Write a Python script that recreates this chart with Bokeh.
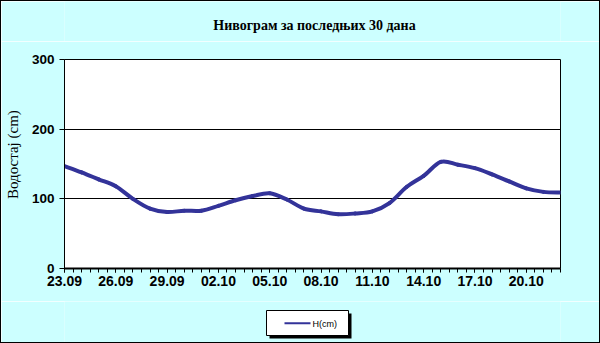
import numpy as np
from bokeh.plotting import figure
from bokeh.layouts import column
from bokeh.models import Range1d, FixedTicker, ColumnDataSource
from bokeh.core.properties import value
from bokeh.embed import file_html
from bokeh.resources import INLINE

# ---- data ----
dates = ["23.09", "24.09", "25.09", "26.09", "27.09", "28.09", "29.09", "30.09",
         "01.10", "02.10", "03.10", "04.10", "05.10", "06.10", "07.10", "08.10",
         "09.10", "10.10", "11.10", "12.10", "13.10", "14.10", "15.10", "16.10",
         "17.10", "18.10", "19.10", "20.10", "21.10", "22.10"]
levels = [147, 138, 128, 118, 100, 86, 81, 83, 83, 90, 98, 104, 108, 99, 86,
          82, 78, 79, 82, 94, 117, 133, 153, 149, 144, 135, 125, 115, 110, 109]
tick_labels = dates[::3]
y_ticks = [0, 100, 200, 300]
title_text = "Нивограм за последњих 30 дана"
y_label = "Водостај (cm)"
series_name = "H(cm)"

BG = "#CCFFFF"
LINE = "#333399"
W = 598
ML, MR = 63, 39   # left / right borders of the plot area (content px)

x = np.arange(len(levels), dtype=float)
y = np.array(levels, dtype=float)

# smoothed line (Catmull-Rom style bezier segments through the data points)
xp = np.concatenate([[x[0]], x, [x[-1]]])
yp = np.concatenate([[y[0]], y, [y[-1]]])
n = len(x) - 1
seg = dict(x0=x[:-1], y0=y[:-1], x1=x[1:], y1=y[1:],
           cx0=x[:-1] + (xp[2:n + 2] - xp[0:n]) / 6.0,
           cy0=y[:-1] + (yp[2:n + 2] - yp[0:n]) / 6.0,
           cx1=x[1:] - (xp[3:n + 3] - xp[1:n + 1]) / 6.0,
           cy1=y[1:] - (yp[3:n + 3] - yp[1:n + 1]) / 6.0)
src = ColumnDataSource(seg)


def strip(height):
    f = figure(width=W, height=height, output_backend="svg", toolbar_location=None,
               x_range=Range1d(ML + 1, W - MR + 1), y_range=Range1d(height, 0),
               min_border_left=ML, min_border_right=MR, min_border_top=0, min_border_bottom=0)
    f.axis.visible = False
    f.grid.visible = False
    f.outline_line_color = None
    f.background_fill_color = BG
    f.border_fill_color = BG
    f.title.visible = False
    return f


# ---- title strip ----
t = strip(40)
t.text(x=[314], y=[24], text=[title_text], text_align="center", text_baseline="middle",
       text_font=value("Liberation Serif"), text_font_style="bold", text_font_size="14px",
       text_color="black")

# ---- main chart ----
p = figure(width=W, height=260, output_backend="svg", toolbar_location=None,
           x_range=Range1d(0, len(levels) - 1), y_range=Range1d(0, 300),
           min_border_left=ML, min_border_right=MR, min_border_top=18, min_border_bottom=33)
p.title.visible = False
p.background_fill_color = "white"
p.border_fill_color = BG
p.outline_line_color = "black"
p.outline_line_width = 1

xa = p.xaxis[0]
xa.ticker = FixedTicker(ticks=list(x[::3]), minor_ticks=list(np.arange(0, len(levels) - 0.5, 0.5)))
xa.major_label_overrides = {float(v): lab for v, lab in zip(x[::3], tick_labels)}
xa.major_tick_in = 0
xa.major_tick_out = 4
xa.minor_tick_in = 0
xa.minor_tick_out = 4
xa.axis_line_width = 2
xa.axis_line_color = "black"
xa.major_tick_line_color = "black"
xa.minor_tick_line_color = "black"
xa.major_label_text_font = "Liberation Sans"
xa.major_label_text_font_style = "bold"
xa.major_label_text_font_size = "14px"
xa.major_label_text_color = "black"
xa.major_label_standoff = 3

ya = p.yaxis[0]
ya.ticker = FixedTicker(ticks=y_ticks)
ya.major_tick_in = 0
ya.major_tick_out = 5
ya.minor_tick_out = 0
ya.axis_line_width = 1
ya.axis_line_color = "black"
ya.major_tick_line_color = "black"
ya.major_label_text_font = "Liberation Sans"
ya.major_label_text_font_style = "bold"
ya.major_label_text_font_size = "13.5px"
ya.major_label_text_color = "black"
ya.major_label_standoff = 5
ya.axis_label = "\u00a0" * 5 + y_label
ya.axis_label_text_font = "Liberation Serif"
ya.axis_label_text_font_style = "normal"
ya.axis_label_text_font_size = "15px"
ya.axis_label_text_color = "black"
ya.axis_label_standoff = 8

p.xgrid.grid_line_color = None
p.ygrid.grid_line_color = "black"
p.ygrid.grid_line_width = 1

p.bezier(x0="x0", y0="y0", x1="x1", y1="y1", cx0="cx0", cy0="cy0", cx1="cx1", cy1="cy1",
         source=src, line_color=LINE, line_width=4, line_cap="round")

# ---- legend strip ----
q = strip(41)
q.quad(left=[269], right=[351], top=[12], bottom=[37], fill_color="black", line_color=None)
q.quad(left=[266], right=[348], top=[9], bottom=[34], fill_color="white", line_color="black",
       line_width=1)
q.line(x=[284, 310], y=[21.7, 21.7], line_color=LINE, line_width=2)
q.text(x=[312], y=[22], text=[series_name], text_align="left", text_baseline="middle",
       text_font=value("Liberation Sans"), text_font_size="9px", text_color="black")

layout = column(t, p, q, spacing=0, styles={"border": "1px solid black"})

open("out.html", "w").write(file_html(layout, INLINE))
